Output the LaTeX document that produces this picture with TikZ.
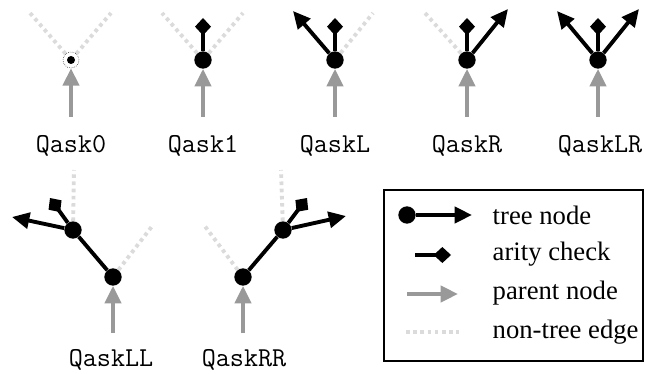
\documentclass[tikz,border=0pt]{standalone}
\usepackage{fontspec}
\setmainfont{Liberation Serif}
\usetikzlibrary{arrows.meta}

\begin{document}
\begin{tikzpicture}[x=0.75pt, y=-0.75pt,
	treenode/.style={circle, fill=black, inner sep=0pt, minimum size=13pt},
	treeedge/.style={line width=2.9pt, -{Triangle[length=13pt, width=12pt]}},
	treeline/.style={line width=2.9pt},
	aritycheck/.style={line width=2.9pt, -{Diamond[length=13pt, width=12pt]}},
	parentedge/.style={line width=2.9pt, draw=black!40, -{Triangle[length=13pt, width=12pt]}},
	nontree/.style={line width=2.9pt, draw=black!14, dash pattern=on 2.7pt off 2.7pt},
	caselabel/.style={font=\ttfamily\fontsize{20.5}{22}\selectfont},
	legendtext/.style={anchor=west, font=\fontsize{20}{22}\selectfont}]
	\useasboundingbox (0,0) rectangle (645,374);

	% Qask0
	\node[circle, draw, densely dotted, thin, inner sep=0pt, minimum size=12pt] (q0) at (71,60) {};
	\fill (q0) circle (3pt);
	\coordinate (q0l) at (30,13);
	\coordinate (q0r) at (111,13);
	\coordinate (q0p) at (71,117);
	\draw[nontree] (q0) -- (q0l);
	\draw[nontree] (q0) -- (q0r);
	\draw[parentedge] (q0p) -- (q0);
	\node[caselabel] (lab0) at (71,146) {Qask0};

	% Qask1
	\node[treenode] (q1) at (203,60) {};
	\coordinate (q1l) at (162,13);
	\coordinate (q1r) at (243,13);
	\coordinate (q1a) at (203,18);
	\coordinate (q1p) at (203,117);
	\draw[nontree] (q1) -- (q1l);
	\draw[nontree] (q1) -- (q1r);
	\draw[aritycheck] (q1) -- (q1a);
	\draw[parentedge] (q1p) -- (q1);
	\node[caselabel] (lab1) at (203,146) {Qask1};

	% QaskL
	\node[treenode] (qL) at (335,60) {};
	\coordinate (qLl) at (293,11);
	\coordinate (qLr) at (373,13);
	\coordinate (qLa) at (335,18);
	\coordinate (qLp) at (335,117);
	\draw[treeedge] (qL) -- (qLl);
	\draw[nontree] (qL) -- (qLr);
	\draw[aritycheck] (qL) -- (qLa);
	\draw[parentedge] (qLp) -- (qL);
	\node[caselabel] (labL) at (335,146) {QaskL};

	% QaskR
	\node[treenode] (qR) at (467,60) {};
	\coordinate (qRl) at (425,13);
	\coordinate (qRr) at (508,9);
	\coordinate (qRa) at (467,18);
	\coordinate (qRp) at (467,117);
	\draw[nontree] (qR) -- (qRl);
	\draw[treeedge] (qR) -- (qRr);
	\draw[aritycheck] (qR) -- (qRa);
	\draw[parentedge] (qRp) -- (qR);
	\node[caselabel] (labR) at (467,146) {QaskR};

	% QaskLR
	\node[treenode] (qLR) at (598,60) {};
	\coordinate (qLRl) at (557,11);
	\coordinate (qLRr) at (639,9);
	\coordinate (qLRa) at (598,18);
	\coordinate (qLRp) at (598,117);
	\draw[treeedge] (qLR) -- (qLRl);
	\draw[treeedge] (qLR) -- (qLRr);
	\draw[aritycheck] (qLR) -- (qLRa);
	\draw[parentedge] (qLRp) -- (qLR);
	\node[caselabel] (labLR) at (600,146) {QaskLR};

	% QaskLL
	\node[treenode] (qLL) at (113,277) {};
	\node[treenode] (qLLu) at (73,230) {};
	\coordinate (qLLr) at (153,225);
	\coordinate (qLLv) at (74,170);
	\coordinate (qLLl) at (12,217);
	\coordinate (qLLa) at (50,198);
	\coordinate (qLLp) at (113,333);
	\draw[nontree] (qLL) -- (qLLr);
	\draw[nontree] (qLLu) -- (qLLv);
	\draw[treeline] (qLL) -- (qLLu);
	\draw[treeedge] (qLLu) -- (qLLl);
	\draw[aritycheck] (qLLu) -- (qLLa);
	\draw[parentedge] (qLLp) -- (qLL);
	\node[caselabel] (labLL) at (111,360) {QaskLL};

	% QaskRR
	\node[treenode] (qRR) at (243,277) {};
	\node[treenode] (qRRu) at (283,230) {};
	\coordinate (qRRl) at (204,225);
	\coordinate (qRRv) at (281,170);
	\coordinate (qRRr) at (346,216);
	\coordinate (qRRa) at (307,198);
	\coordinate (qRRp) at (243,333);
	\draw[nontree] (qRR) -- (qRRl);
	\draw[nontree] (qRRu) -- (qRRv);
	\draw[treeline] (qRR) -- (qRRu);
	\draw[treeedge] (qRRu) -- (qRRr);
	\draw[aritycheck] (qRRu) -- (qRRa);
	\draw[parentedge] (qRRp) -- (qRR);
	\node[caselabel] (labRR) at (244,360) {QaskRR};

	% legend
	\draw[line width=1.2pt] (384,190) rectangle (643,361);
	\node[treenode] (lgn) at (407,215) {};
	\coordinate (lgne) at (472,215);
	\draw[treeedge] (lgn) -- (lgne);
	\node[legendtext] (lgt1) at (488,215) {tree node};
	\coordinate (lgas) at (415,255);
	\coordinate (lgae) at (451,255);
	\draw[aritycheck] (lgas) -- (lgae);
	\node[legendtext] (lgt2) at (488,254) {arity check};
	\coordinate (lgps) at (407,294);
	\coordinate (lgpe) at (458,294);
	\draw[parentedge] (lgps) -- (lgpe);
	\node[legendtext] (lgt3) at (488,293) {parent node};
	\coordinate (lgds) at (406,332);
	\coordinate (lgde) at (459,332);
	\draw[nontree] (lgds) -- (lgde);
	\node[legendtext] (lgt4) at (488,332) {non-tree edge};
\end{tikzpicture}
\end{document}
